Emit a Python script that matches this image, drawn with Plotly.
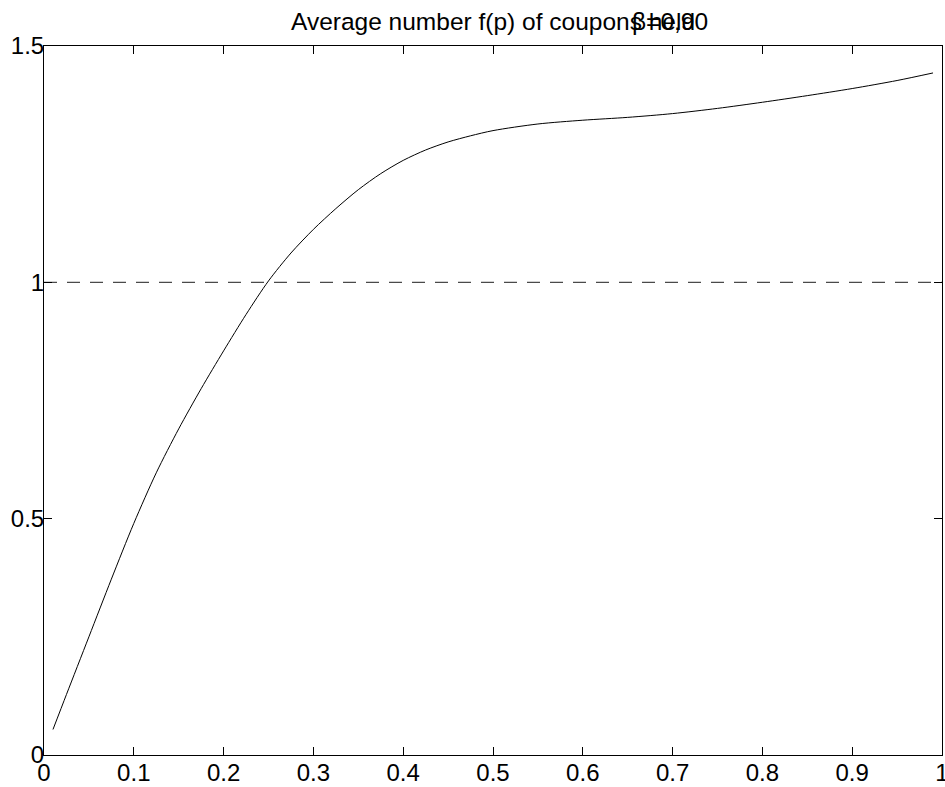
import plotly.graph_objects as go

# Data
p_values = [0.01, 0.025, 0.05, 0.075, 0.1, 0.125, 0.15, 0.175, 0.2, 0.225,
            0.25, 0.275, 0.3, 0.325, 0.35, 0.375, 0.4, 0.425, 0.45, 0.475, 0.5,
            0.55, 0.6, 0.65, 0.7, 0.75, 0.8, 0.85, 0.9, 0.95, 0.99]
f_values = [0.054, 0.128, 0.25, 0.372, 0.49, 0.597, 0.69, 0.775, 0.855, 0.932,
            1.003, 1.062, 1.112, 1.156, 1.196, 1.230, 1.258, 1.280, 1.297, 1.310, 1.321,
            1.335, 1.343, 1.349, 1.357, 1.368, 1.381, 1.395, 1.410, 1.427, 1.443]

ref_x = [0, 1]
ref_y = [1, 1]

x_ticks = [0, 0.1, 0.2, 0.3, 0.4, 0.5, 0.6, 0.7, 0.8, 0.9, 1]
x_tick_text = ["0", "0.1", "0.2", "0.3", "0.4", "0.5", "0.6", "0.7", "0.8", "0.9", "1"]
y_ticks = [0, 0.5, 1, 1.5]
y_tick_text = ["0", "0.5", "1", "1.5"]

title_text = "Average number f(p) of coupons held"
beta_text = "β=0,90"
beta_x = 0.652

FONT = "Liberation Sans, Arial, Helvetica, sans-serif"
FS = 24

fig = go.Figure()
fig.add_trace(go.Scatter(x=ref_x, y=ref_y, mode="lines",
                         line=dict(color="#4a4a4a", width=1.2, dash="13px,10px"),
                         hoverinfo="skip", showlegend=False))
fig.add_trace(go.Scatter(x=p_values, y=f_values, mode="lines",
                         line=dict(color="black", width=1, shape="spline", smoothing=0.8),
                         showlegend=False))

axis_common = dict(showgrid=False, zeroline=False, showline=True, linecolor="black",
                   linewidth=1, mirror="ticks", ticks="inside", ticklen=8,
                   tickcolor="black", tickwidth=1, automargin=False,
                   ticklabeloverflow="allow",
                   tickfont=dict(family=FONT, size=FS, color="black"))

fig.update_xaxes(range=[0, 1], tickvals=x_ticks, ticktext=x_tick_text,
                 ticklabelstandoff=-4, **axis_common)
fig.update_yaxes(range=[0, 1.5], tickvals=y_ticks, ticktext=y_tick_text,
                 ticklabelstandoff=-6, **axis_common)

fig.add_annotation(text=title_text, xref="paper", yref="paper", x=0.5, y=1,
                   xanchor="center", yanchor="bottom", yshift=9, showarrow=False,
                   font=dict(family=FONT, size=24.5, color="black"))
fig.add_annotation(text=beta_text, xref="x", yref="paper", x=beta_x, y=1,
                   xanchor="left", yanchor="bottom", yshift=9, showarrow=False,
                   font=dict(family=FONT, size=24.5, color="black"))

fig.update_layout(width=945, height=787,
                  margin=dict(l=44, r=3, t=46, b=32),
                  paper_bgcolor="white", plot_bgcolor="white",
                  font=dict(family=FONT, size=FS, color="black"))

# remove the browser's default 8px body margin and any scrollbars
fig.write_html("out.html",
               config={"displayModeBar": False},
               post_script="document.body.style.margin='0';"
                           "document.documentElement.style.overflow='hidden';"
                           "document.body.style.overflow='hidden';")
